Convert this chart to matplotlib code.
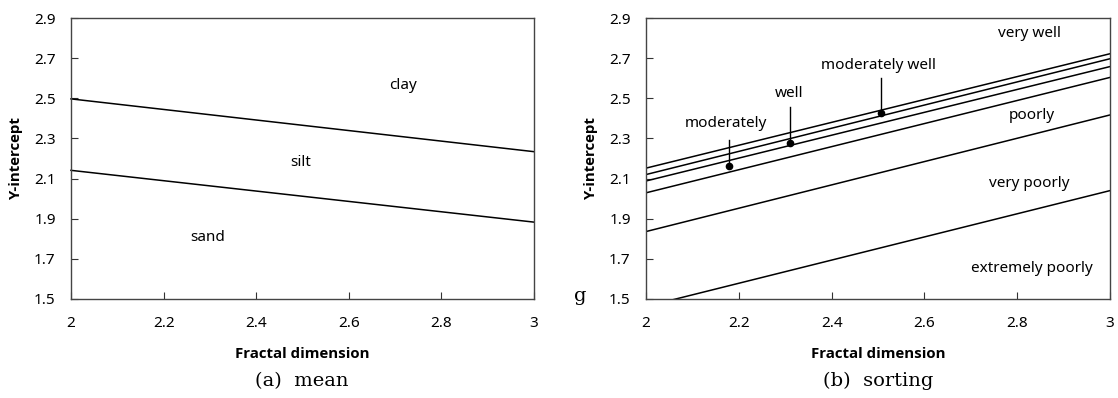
import matplotlib.pyplot as plt

# (a) mean: boundary lines, values at x = 2 and x = 3
x_ends = [2, 3]
mean_lines = [[2.497, 2.234], [2.141, 1.883]]
mean_labels = ['clay', 'silt', 'sand']
mean_label_x = [2.717, 2.497, 2.296]
mean_label_y = [2.565, 2.18, 1.805]

# (b) sorting: boundary lines, values at x = 2 and x = 3
sort_lines = [[2.152, 2.722], [2.12, 2.697], [2.088, 2.658],
              [2.029, 2.604], [1.836, 2.417], [1.463, 2.040]]
sort_labels = ['very well', 'poorly', 'very poorly', 'extremely poorly']
sort_label_x = [2.826, 2.831, 2.827, 2.831]
sort_label_y = [2.825, 2.415, 2.075, 1.652]

# annotated boundaries: label, label position, dot position
pointer_labels = ['moderately', 'well', 'moderately well']
pointer_text_x = [2.173, 2.308, 2.501]
pointer_text_y = [2.373, 2.522, 2.663]
pointer_top_y = [2.294, 2.459, 2.602]
pointer_dot_x = [2.178, 2.310, 2.506]
pointer_dot_y = [2.161, 2.277, 2.426]

xticks = [2, 2.2, 2.4, 2.6, 2.8, 3]
xtick_labels = ['2', '2.2', '2.4', '2.6', '2.8', '3']
yticks = [1.5, 1.7, 1.9, 2.1, 2.3, 2.5, 2.7, 2.9]

plt.rcParams['font.family'] = ['Noto Sans', 'DejaVu Sans']

fig = plt.figure(figsize=(11.18, 3.98), dpi=100)
ax1 = fig.add_axes([71 / 1118, 1 - 299 / 398, 463 / 1118, 281 / 398])
ax2 = fig.add_axes([646 / 1118, 1 - 299 / 398, 464 / 1118, 281 / 398])


def style(ax):
    ax.set_xlim(2, 3)
    ax.set_ylim(1.5, 2.9)
    ax.set_xticks(xticks)
    ax.set_xticklabels(xtick_labels)
    ax.set_yticks(yticks)
    ax.set_yticklabels([f'{v:.1f}' for v in yticks])
    ax.tick_params(direction='in', length=5, width=0.8, color='#333333',
                   labelsize=11, pad=11)
    ax.tick_params(axis='x', pad=12)
    for s in ax.spines.values():
        s.set_color('#444444')
        s.set_linewidth(1.0)
    ax.set_xlabel('Fractal dimension', fontsize=10.8, fontweight='bold',
                  family=['Open Sans', 'DejaVu Sans'], labelpad=12)
    ax.set_ylabel('Y-intercept', fontsize=10.8, fontweight='bold',
                  family=['Open Sans', 'DejaVu Sans'], labelpad=8)


style(ax1)
style(ax2)

for ys in mean_lines:
    ax1.plot(x_ends, ys, color='black', lw=1.1, clip_on=False)
for lab, tx, ty in zip(mean_labels, mean_label_x, mean_label_y):
    ax1.text(tx, ty, lab, ha='center', va='center', fontsize=11)

for ys in sort_lines:
    ax2.plot(x_ends, ys, color='black', lw=1.1)
for lab, tx, ty in zip(sort_labels, sort_label_x, sort_label_y):
    ax2.text(tx, ty, lab, ha='center', va='center', fontsize=11)

for lab, tx, ty, top, dx, dy in zip(pointer_labels, pointer_text_x, pointer_text_y,
                                    pointer_top_y, pointer_dot_x, pointer_dot_y):
    ax2.text(tx, ty, lab, ha='center', va='center', fontsize=11)
    ax2.plot([dx, dx], [top, dy], color='black', lw=1.0)
    ax2.plot(dx, dy, 'o', color='black', ms=4.5)

# captions and the stray mark left of panel (b)
fig.text(302 / 1118, 1 - 381 / 398, '(a)  mean', ha='center', va='center',
         fontsize=14, family='DejaVu Serif')
fig.text(878 / 1118, 1 - 381 / 398, '(b)  sorting', ha='center', va='center',
         fontsize=14, family='DejaVu Serif')
fig.text(580 / 1118, 1 - 296 / 398, 'g', ha='center', va='center',
         fontsize=14, family='DejaVu Serif')

plt.savefig('out.png', dpi=100)
